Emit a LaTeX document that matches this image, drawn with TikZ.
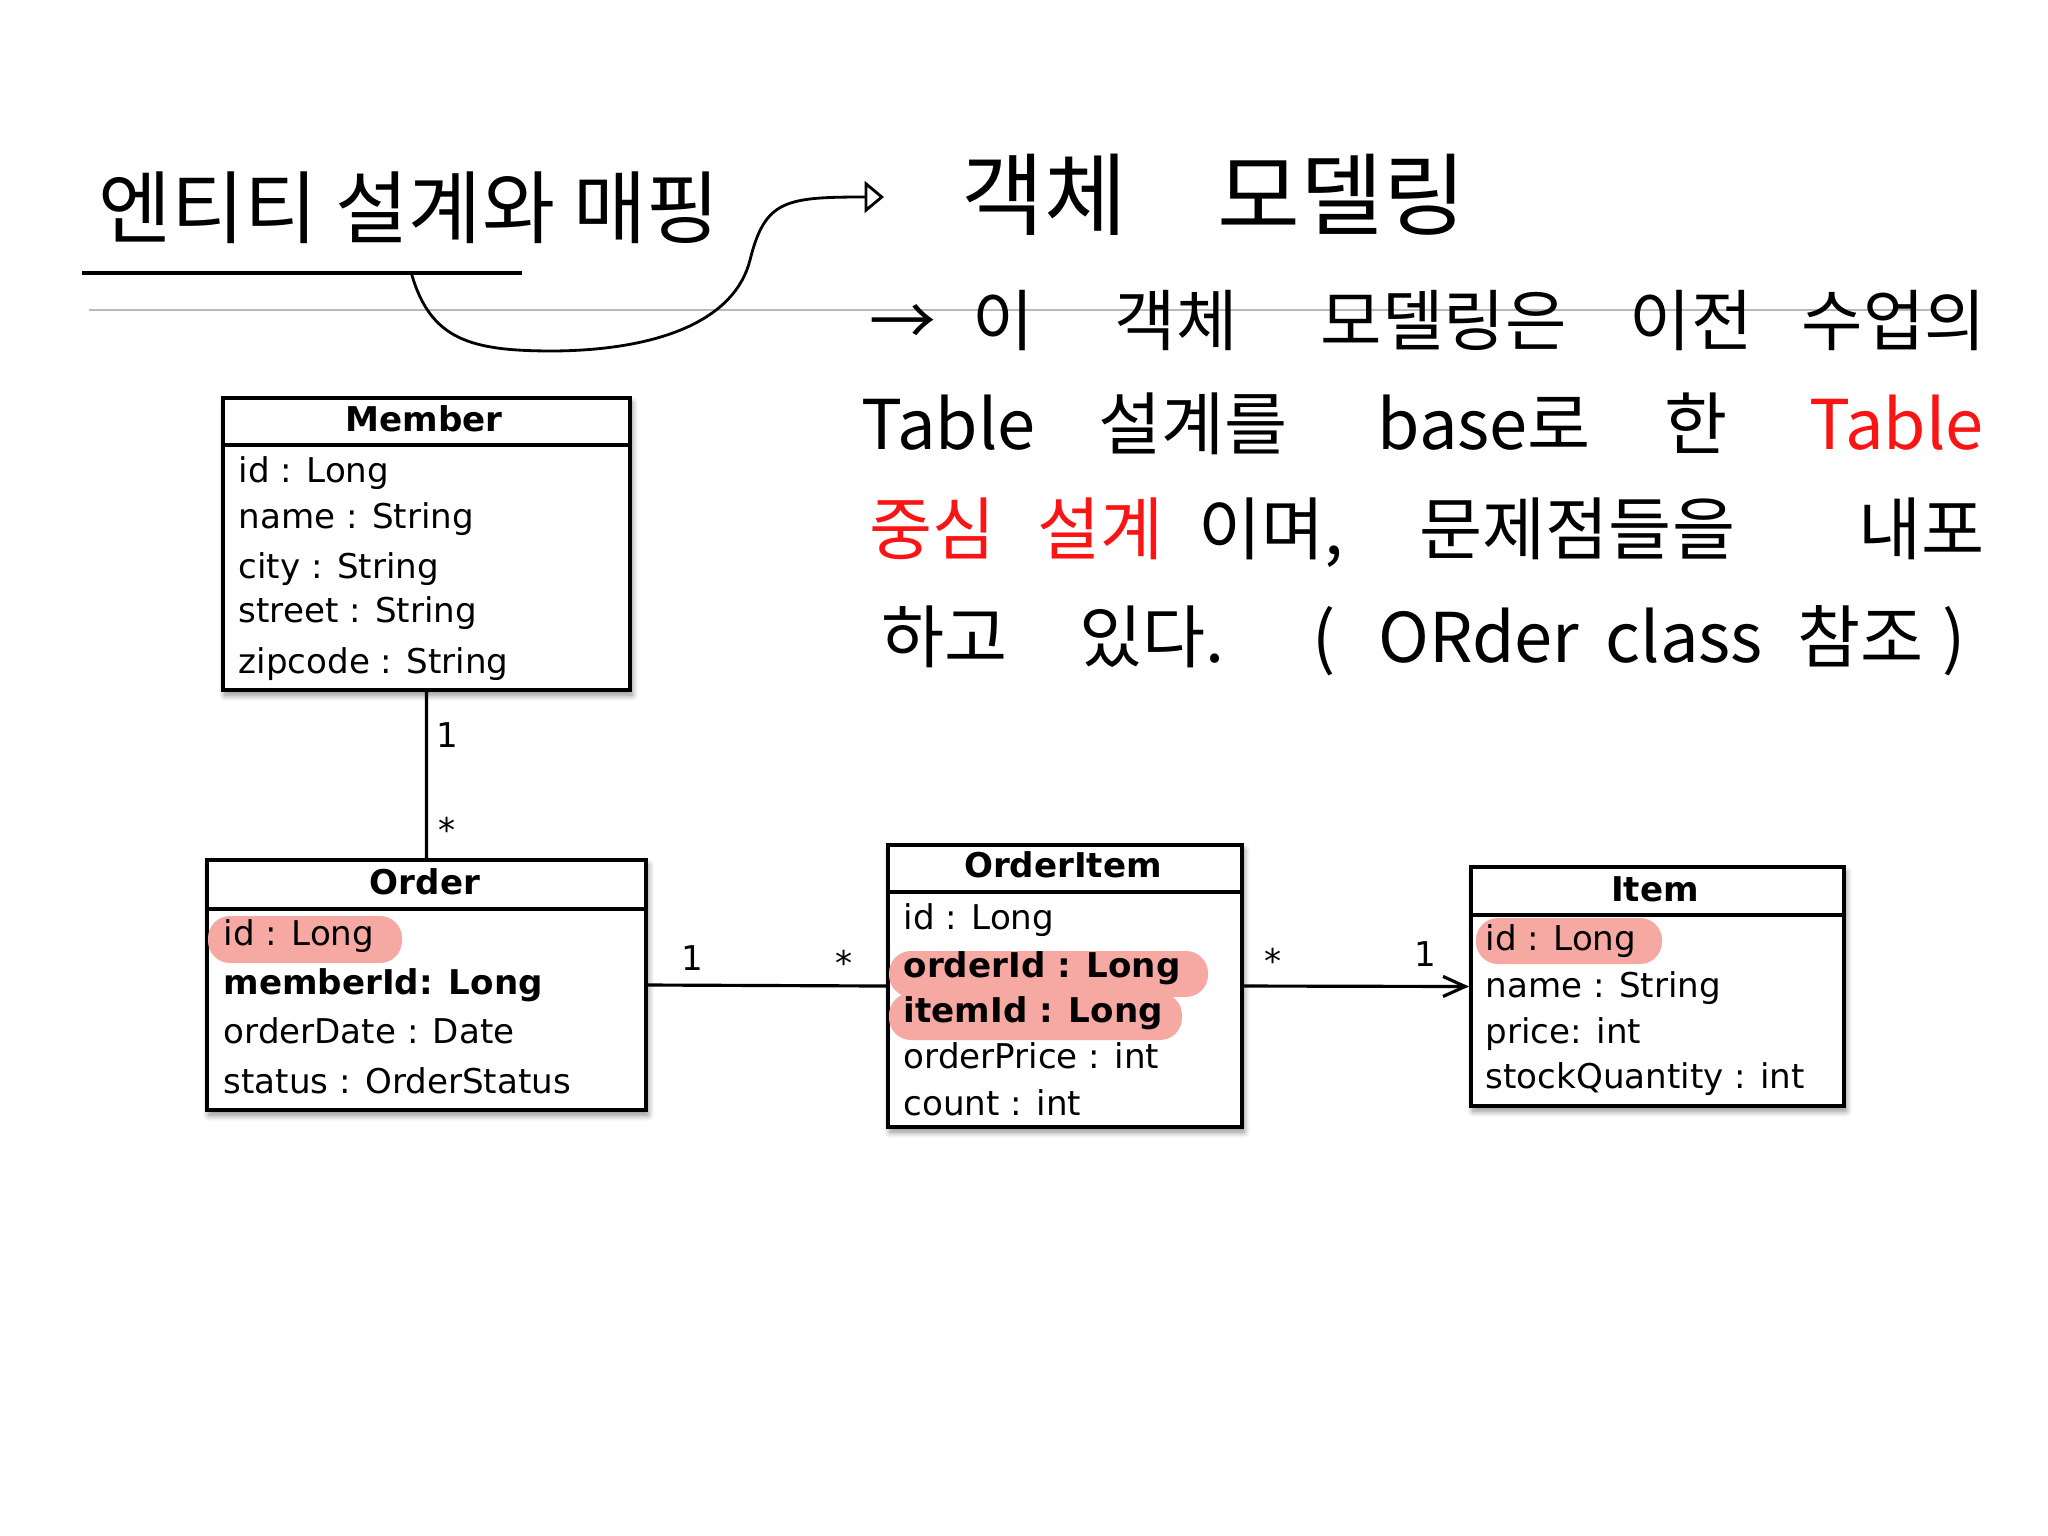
\documentclass[tikz,border=0pt]{standalone}
\usepackage{fontspec}
\newfontfamily\umlfont{DejaVu Sans}
\newfontfamily\krfont{Noto Sans CJK KR}
\usetikzlibrary{arrows.meta,shadows.blur}
\definecolor{hilite}{RGB}{246,168,163}
\definecolor{inkred}{RGB}{250,20,20}
\tikzset{
  classbox/.style={draw, line width=1.1pt, fill=white, inner sep=0pt, anchor=north west,
    blur shadow={shadow xshift=0.02cm, shadow yshift=-0.05cm, shadow blur steps=6, shadow opacity=45}},
  classname/.style={font=\umlfont\bfseries\fontsize{9.7}{11}\selectfont, inner sep=0pt, anchor=base},
  attr/.style={font=\umlfont\fontsize{9.7}{11}\selectfont, inner sep=0pt, anchor=base west},
  mult/.style={font=\umlfont\fontsize{9.7}{11}\selectfont, inner sep=0pt},
  marker/.style={fill=hilite, rounded corners=0.22cm},
  hand/.style={font=\krfont\fontsize{19.5}{23}\selectfont, inner sep=0pt, anchor=base west},
  link/.style={line width=0.9pt}
}
\begin{document}
\begin{tikzpicture}[x=0.01cm,y=-0.01cm]
\useasboundingbox (0,0) rectangle (2048,1536);
% Title, underline and page rule
\node[font=\krfont\fontsize{22.6}{27}\selectfont, inner sep=0pt, anchor=base west] (title) at (98,237) {엔티티 설계와 매핑};
\draw[line width=1.1pt] (82,273) -- (522,273);
\draw[gray!55, line width=0.6pt] (89,310) -- (1958,310);
% Handwritten notes
\foreach \x/\c/\t [count=\i] in {961/black/객체, 1217/black/모델링}
  \node[hand, font=\krfont\fontsize{25.6}{30}\selectfont, text=\c] (noteA\i) at (\x,228) {\t};
\foreach \x/\c/\t [count=\i] in {869/black/→, 972/black/이, 1114/black/객체, 1320/black/모델링은, 1629/black/이전, 1801/black/수업의}
  \node[hand, font=\krfont\fontsize{19}{23}\selectfont, text=\c] (noteB\i) at (\x,345) {\t};
\foreach \x/\c/\t [count=\i] in {861/black/Table, 1098/black/설계를, 1377/black/base로, 1664/black/한, 1809/inkred/Table}
  \node[hand, text=\c] (noteC\i) at (\x,449) {\t};
\foreach \x/\c/\t [count=\i] in {869/inkred/중심, 1037/inkred/설계, 1198/black/{이며,}, 1419/black/문제점들을, 1858/black/내포}
  \node[hand, text=\c] (noteD\i) at (\x,554) {\t};
\foreach \x/\c/\t [count=\i] in {881/black/하고, 1079/black/있다., 1312/black/{(}, 1378/black/ORder, 1605/black/class, 1797/black/참조, 1942/black/{)}}
  \node[hand, text=\c] (noteE\i) at (\x,662) {\t};
% Curved hand arrow from the underline
\coordinate (bend) at (411,272);
\coordinate (tip) at (884,197);
\draw[line width=0.8pt, -{Triangle[open,length=5.5pt,width=9pt]}] (bend) .. controls (430,340) and (470,351) .. (554,351) .. controls (660,350) and (735,320) .. (750,260) .. controls (765,200) and (785,197) .. (tip);
% Member
\node[classbox, minimum width=4.07cm, minimum height=2.92cm] (member) at (221,396) {};
\draw[line width=1.1pt] (221,445) -- (628,445);
\node[classname] (memberName) at (424,431) {Member};
\foreach \y/\t [count=\i] in {482/id : Long, 528/name : String, 578/city : String, 622/street : String, 673/zipcode : String}
  \node[attr] (memberAttr\i) at (238,\y) {\t};
% Order
\node[classbox, minimum width=4.39cm, minimum height=2.50cm] (order) at (205,858) {};
\draw[line width=1.1pt] (205,909) -- (644,909);
\node[classname] (orderName) at (425,894) {Order};
\fill[marker] (208,916) rectangle (402,963);
\foreach \y/\t [count=\i] in {945/id : Long, 994/{\bfseries memberId: Long}, 1043/orderDate : Date, 1093/status : OrderStatus}
  \node[attr] (orderAttr\i) at (223,\y) {\t};
% OrderItem
\node[classbox, minimum width=3.54cm, minimum height=2.82cm] (orderitem) at (886,843) {};
\draw[line width=1.1pt] (886,892) -- (1240,892);
\node[classname] (orderitemName) at (1063,877) {OrderItem};
\fill[marker] (889,951) rectangle (1208,997);
\fill[marker] (889,993) rectangle (1182,1040);
\foreach \y/\t [count=\i] in {929/id : Long, 977/{\bfseries orderId : Long}, 1022/{\bfseries itemId : Long}, 1068/orderPrice : int, 1115/count : int}
  \node[attr] (orderitemAttr\i) at (903,\y) {\t};
% Item
\node[classbox, minimum width=3.73cm, minimum height=2.39cm] (item) at (1469,865) {};
\draw[line width=1.1pt] (1469,915) -- (1842,915);
\node[classname] (itemName) at (1655,901) {Item};
\fill[marker] (1476,918) rectangle (1662,964);
\foreach \y/\t [count=\i] in {950/id : Long, 997/name : String, 1043/price: int, 1088/stockQuantity : int}
  \node[attr] (itemAttr\i) at (1485,\y) {\t};
% Associations
\draw[link] (member.south) -- (order.north);
\draw[link] (order.east) -- (orderitem.west);
\draw[link, -{Straight Barb[length=6.3pt,width=5.7pt]}] (orderitem.east) -- (item.west);
\node[mult] (memberOne) at (447,735) {1};
\node[mult] (orderMany) at (447,830) {*};
\node[mult] (orderOne) at (692,958) {1};
\node[mult] (orderitemMany) at (844,963) {*};
\node[mult] (lineMany) at (1273,961) {*};
\node[mult] (itemOne) at (1425,954) {1};
\end{tikzpicture}
\end{document}
